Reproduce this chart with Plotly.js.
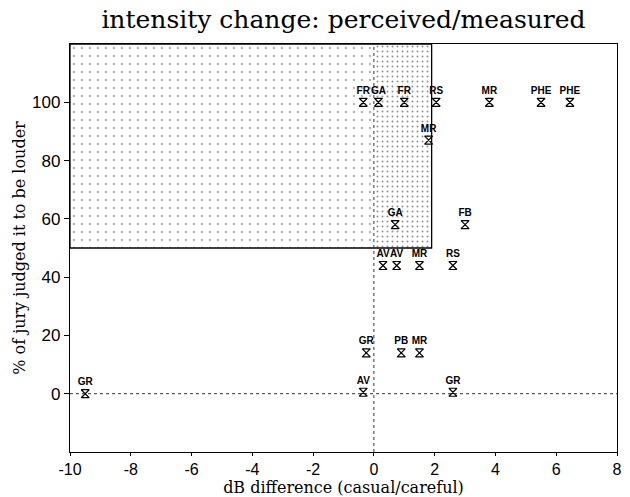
<!DOCTYPE html>
<html>
<head>
<meta charset="utf-8">
<script src="https://cdn.plot.ly/plotly-3.0.1.min.js"></script>
<style>html,body{margin:0;padding:0;background:#fff;}#chart{width:630px;height:497px;}</style>
</head>
<body>
<div id="chart"></div>
<script>
// Data
const labels = ['FR','GA','FR','RS','MR','PHE','PHE','MR','GA','FB','AV','AV','MR','RS','GR','PB','MR','GR','AV','GR'];
const dbDiff = [-0.35, 0.15, 1.0, 2.05, 3.8, 5.5, 6.45, 1.8, 0.7, 3.0, 0.3, 0.75, 1.5, 2.6, -0.25, 0.9, 1.5, -9.5, -0.35, 2.6];
const pctLouder = [100, 100, 100, 100, 100, 100, 100, 87, 58, 58, 44, 44, 44, 44, 14, 14, 14, 0, 0.5, 0.5];

// Axis limits and shaded "perceived louder" region bounds
const xRange = [-10, 8];
const yRange = [-20, 120];
const xTicks = [-10, -8, -6, -4, -2, 0, 2, 4, 6, 8];
const yTicks = [0, 20, 40, 60, 80, 100];
const shadeXMin = -10, shadeXSplit = 0, shadeXMax = 1.9;
const shadeYMin = 50, shadeYMax = 120;

const serif = 'DejaVu Serif, Liberation Serif, serif';
const sans = 'Liberation Sans, Arial, sans-serif';

function rect(x0, x1, y0, y1) {
  return {x: [x0, x1, x1, x0, x0], y: [y0, y0, y1, y1, y0]};
}

const rLight = rect(shadeXMin, shadeXSplit, shadeYMin, shadeYMax);
const rDense = rect(shadeXSplit, shadeXMax, shadeYMin, shadeYMax);
const rAll = rect(shadeXMin, shadeXMax, shadeYMin, shadeYMax);

const traces = [
  {x: rLight.x, y: rLight.y, type: 'scatter', mode: 'none', fill: 'toself',
   fillcolor: 'rgba(0,0,0,0)',
   fillpattern: {shape: '.', size: 8, solidity: 0.08, fgcolor: '#b8b8b8', bgcolor: '#ffffff'},
   hoverinfo: 'skip', showlegend: false},
  {x: rDense.x, y: rDense.y, type: 'scatter', mode: 'none', fill: 'toself',
   fillcolor: 'rgba(0,0,0,0)',
   fillpattern: {shape: '.', size: 5, solidity: 0.12, fgcolor: '#909090', bgcolor: '#ffffff'},
   hoverinfo: 'skip', showlegend: false},
  {x: rAll.x, y: rAll.y, type: 'scatter', mode: 'lines',
   line: {color: '#000', width: 1.3}, hoverinfo: 'skip', showlegend: false},
  {x: dbDiff, y: pctLouder, text: labels, type: 'scatter', mode: 'markers+text',
   textposition: 'top center',
   textfont: {family: sans, size: 10, color: '#000', weight: 'bold'},
   marker: {symbol: 'hourglass-open', size: 8, color: '#000', line: {width: 1.2, color: '#000'}},
   showlegend: false}
];

const layout = {
  width: 630, height: 497,
  margin: {l: 70, r: 13, t: 44, b: 45},
  paper_bgcolor: '#fff', plot_bgcolor: '#fff',
  showlegend: false,
  title: {text: 'intensity change: perceived/measured',
          font: {family: serif, size: 25, color: '#000'},
          x: 0.5, xref: 'paper', xanchor: 'center',
          y: 1 - 19/497, yref: 'container', yanchor: 'middle'},
  xaxis: {range: xRange, tickvals: xTicks, ticktext: xTicks.map(String),
          ticks: 'outside', ticklen: 3, tickcolor: '#000',
          showline: true, mirror: true, linecolor: '#000', linewidth: 1.2,
          showgrid: false, zeroline: false,
          tickfont: {family: sans, size: 16, color: '#000'},
          title: {text: 'dB difference (casual/careful)', font: {family: serif, size: 16, color: '#000'}, standoff: 1}},
  yaxis: {range: yRange, tickvals: yTicks, ticktext: yTicks.map(String),
          ticks: 'outside', ticklen: 5, tickcolor: '#000',
          showline: true, mirror: true, linecolor: '#000', linewidth: 1.2,
          showgrid: false, zeroline: false,
          tickfont: {family: sans, size: 17, color: '#000'},
          title: {text: '% of jury judged it to be louder', font: {family: serif, size: 16, color: '#000'}, standoff: 2}},
  shapes: [
    {type: 'line', xref: 'paper', yref: 'y', x0: 0, x1: 1, y0: 0, y1: 0,
     line: {color: '#333', width: 1, dash: 'dot'}},
    {type: 'line', xref: 'x', yref: 'paper', x0: 0, x1: 0, y0: 0, y1: 1,
     line: {color: '#333', width: 1, dash: 'dot'}}
  ]
};

Plotly.newPlot('chart', traces, layout, {displayModeBar: false, staticPlot: true});
</script>
</body>
</html>
